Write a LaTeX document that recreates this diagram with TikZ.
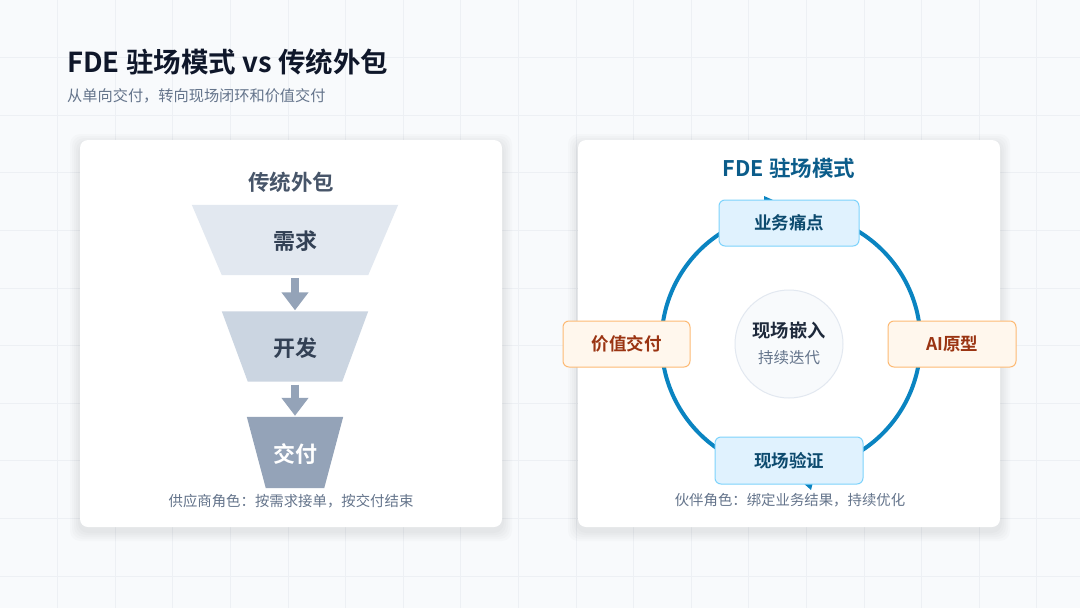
\documentclass[tikz,border=0pt]{standalone}
\usepackage{fontspec}
\setmainfont{Noto Sans CJK SC}[BoldFont={Noto Sans CJK SC Bold}]
\usetikzlibrary{arrows.meta,positioning}

\definecolor{pagebg}{HTML}{F8FAFC}
\definecolor{gridline}{HTML}{EDF0F4}
\definecolor{ink}{HTML}{0F172A}
\definecolor{muted}{HTML}{64748B}
\definecolor{slatehead}{HTML}{475569}
\definecolor{stageA}{HTML}{E2E8F0}
\definecolor{stageB}{HTML}{CBD5E1}
\definecolor{stageC}{HTML}{94A3B8}
\definecolor{stagetext}{HTML}{334155}
\definecolor{flowarrow}{HTML}{94A3B8}
\definecolor{fdeblue}{HTML}{0B5C8A}
\definecolor{loopblue}{HTML}{0A84C1}
\definecolor{skyfill}{HTML}{E0F2FE}
\definecolor{skyline}{HTML}{7DD3FC}
\definecolor{skytext}{HTML}{0C4A6E}
\definecolor{orangefill}{HTML}{FFF7ED}
\definecolor{orangeline}{HTML}{FDBA74}
\definecolor{orangetext}{HTML}{9A3412}
\definecolor{hubfill}{HTML}{F8FAFC}
\definecolor{hubline}{HTML}{E2E8F0}
\definecolor{hubtext}{HTML}{1E293B}

\newcommand\pagetitlefont{\fontsize{27.5}{32}\selectfont\bfseries}
\newcommand\subtitlefont{\fontsize{15.2}{18}\selectfont}
\newcommand\cardtitlefont{\fontsize{21.5}{25}\selectfont\bfseries}
\newcommand\stagefont{\fontsize{22}{26}\selectfont\bfseries}
\newcommand\boxfont{\fontsize{17.5}{21}\selectfont\bfseries}
\newcommand\hubfont{\fontsize{18.3}{22}\selectfont\bfseries}
\newcommand\hubsubfont{\fontsize{15.5}{19}\selectfont}
\newcommand\captionfont{\fontsize{14.4}{17}\selectfont}

\begin{document}
\begin{tikzpicture}[x=1pt,y=-1pt,
    card/.style={fill=white,rounded corners=8pt,minimum width=422pt,minimum height=387pt,inner sep=0pt},
    cardshade/.style={fill=black,fill opacity=0.014,rounded corners=10pt},
    stagebox/.style={minimum height=70pt,inner sep=0pt},
    flow/.style={line width=8pt,draw=flowarrow,-{Triangle[width=26pt,length=18pt]}},
    stepnode/.style={rounded corners=6pt,line width=1pt,minimum height=46pt,inner sep=0pt,font=\boxfont},
    skybox/.style={stepnode,fill=skyfill,draw=skyline,text=skytext},
    orangebox/.style={stepnode,fill=orangefill,draw=orangeline,text=orangetext},
    caption/.style={font=\captionfont,text=muted}]
  % page and grid
  \fill[pagebg] (0,0) rectangle (1080,608);
  \useasboundingbox (0,0) rectangle (1080,608);
  \foreach \i in {1,...,18}
    \draw[gridline,line width=1pt] (\i*57.6,0) -- (\i*57.6,608);
  \foreach \j in {1,...,10}
    \draw[gridline,line width=1pt] (0,\j*57.6) -- (1080,\j*57.6);

  % heading
  \node[anchor=west,inner sep=0pt,font=\pagetitlefont,text=ink] (title) at (67,62) {FDE 驻场模式 vs 传统外包};
  \node[anchor=west,inner sep=0pt,font=\subtitlefont,text=muted] (subtitle) at (67,96) {从单向交付，转向现场闭环和价值交付};

  % cards with a soft shadow
  \foreach \cx in {291,789}
    \foreach \g in {2,4,6,8,10}
      \fill[cardshade] (\cx-211-\g,140-\g+4) rectangle (\cx+211+\g,527+\g+4);
  \node[card] (leftcard) at (291,333.5) {};
  \node[card] (rightcard) at (789,333.5) {};

  % traditional outsourcing funnel
  \node[font=\cardtitlefont,text=slatehead] (oldtitle) at (291,182) {传统外包};
  \node[stagebox,minimum width=146pt] (req) at (295,240) {};
  \node[stagebox,minimum width=94pt] (dev) at (295,346.5) {};
  \node[stagebox,minimum width=58pt,minimum height=71pt] (ship) at (295,452.5) {};
  \fill[stageA] ([xshift=-30pt]req.north west) -- ([xshift=30pt]req.north east) -- (req.south east) -- (req.south west) -- cycle;
  \fill[stageB] ([xshift=-26pt]dev.north west) -- ([xshift=26pt]dev.north east) -- (dev.south east) -- (dev.south west) -- cycle;
  \fill[stageC] ([xshift=-19pt]ship.north west) -- ([xshift=19pt]ship.north east) -- (ship.south east) -- (ship.south west) -- cycle;
  \node[font=\stagefont,text=stagetext] at ([yshift=-1pt]req.center) {需求};
  \node[font=\stagefont,text=stagetext] at ([yshift=-2pt]dev.center) {开发};
  \node[font=\stagefont,text=white] at ([yshift=-2pt]ship.center) {交付};
  \draw[flow] ([yshift=-3pt]req.south) -- ([yshift=1pt]dev.north);
  \draw[flow] ([yshift=-3pt]dev.south) -- ([yshift=1pt]ship.north);
  \node[caption] (oldrole) at (291,501) {供应商角色：按需求接单，按交付结束};

  % FDE loop
  \node[font=\cardtitlefont,text=fdeblue] (fdetitle) at (789,168) {FDE 驻场模式};
  \node[circle,draw=loopblue,line width=4pt,minimum size=259pt,inner sep=0pt] (loop) at (791,342) {};
  \node[circle,fill=hubfill,draw=hubline,line width=1pt,minimum size=108pt,inner sep=0pt] (hub) at (789,344) {};
  \node[font=\hubfont,text=hubtext] (hubtitle) at (789,331) {现场嵌入};
  \node[font=\hubsubfont,text=muted] (hubsub) at (789,358) {持续迭代};
  % arrow tips of the loop, mostly under the boxes
  \fill[loopblue] (764,196) -- (773,200) -- (764,204) -- cycle;
  \fill[loopblue] (802,482) -- (813,482) -- (811,490) -- cycle;
  \node[skybox,minimum width=140pt] (pain) at (789,223) {业务痛点};
  \node[orangebox,minimum width=128pt] (proto) at (952,344) {AI原型};
  \node[skybox,minimum width=148pt,minimum height=47pt] (verify) at (789,460.5) {现场验证};
  \node[orangebox,minimum width=127pt] (value) at (626.5,344) {价值交付};
  \node[caption] (newrole) at (790,500) {伙伴角色：绑定业务结果，持续优化};
\end{tikzpicture}
\end{document}
